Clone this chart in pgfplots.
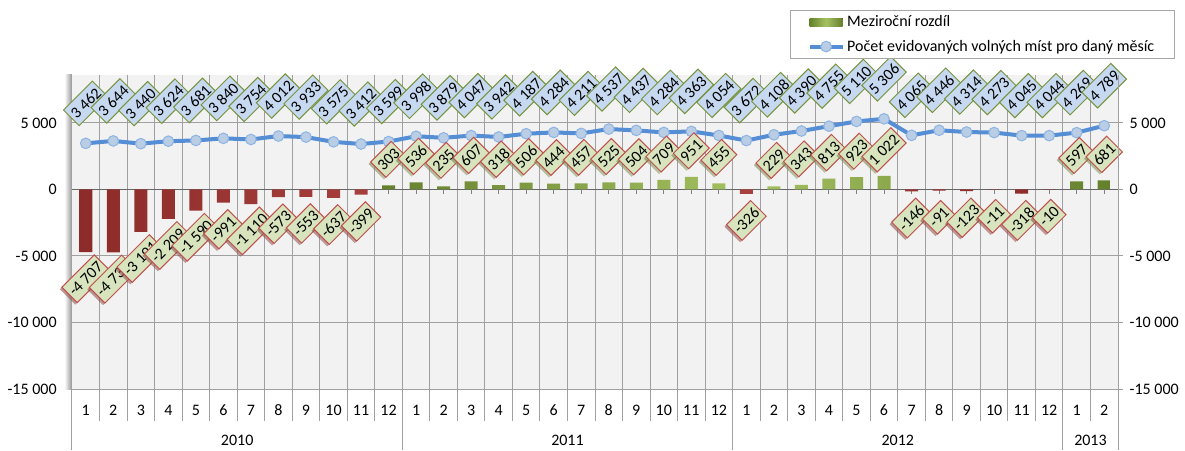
\documentclass[border=0pt]{standalone}
\usepackage{pgfplots}
\pgfplotsset{compat=1.18}
\usepackage{pgfplotstable}
\usepackage{fontspec}
\setmainfont{Carlito}
\usetikzlibrary{shadows}
\definecolor{gridc}{HTML}{A0A0A0}
\definecolor{bgc}{HTML}{F2F2F2}
\definecolor{linec}{HTML}{558ED5}
\definecolor{markf}{HTML}{B9CDE5}
\definecolor{markd}{HTML}{8EB4E3}
\definecolor{lblblue}{HTML}{C6D9F1}
\definecolor{lblgreenb}{HTML}{77933C}
\definecolor{lblgreen}{HTML}{D7E4BD}
\definecolor{lblred}{HTML}{C0504D}
\definecolor{reddark}{HTML}{8C2B29}
\definecolor{redmid}{HTML}{B84D4A}
\definecolor{greendark}{HTML}{65802C}
\definecolor{greenmid}{HTML}{A5C262}

\pgfplotstableread{
x line diff
0 3462 -4707
1 3644 -4736
2 3440 -3191
3 3624 -2209
4 3681 -1590
5 3840 -991
6 3754 -1110
7 4012 -573
8 3933 -553
9 3575 -637
10 3412 -399
11 3599 303
12 3998 536
13 3879 235
14 4047 607
15 3942 318
16 4187 506
17 4284 444
18 4211 457
19 4537 525
20 4437 504
21 4284 709
22 4363 951
23 4054 455
24 3672 -326
25 4108 229
26 4390 343
27 4755 813
28 5110 923
29 5306 1022
30 4065 -146
31 4446 -91
32 4314 -123
33 4273 -11
34 4045 -318
35 4044 -10
36 4269 597
37 4789 681
}\data

\newcommand{\fs}{\fontsize{12}{14.4}\selectfont}

\begin{document}
\begin{tikzpicture}[x=0.75pt,y=0.75pt,font=\fs]
\useasboundingbox (-72,-61) rectangle (1113,389);
\begin{axis}[
  at={(0,0)}, anchor=south west, scale only axis,
  width=784.5pt, height=235.5pt,
  xmin=-0.5, xmax=37.5, ymin=-15000, ymax=8600,
  clip=false,
  axis background/.style={fill=bgc},
  axis x line*=bottom, axis y line*=left,
  axis line style={gridc, line width=0.75pt},
  xtick={0,...,37},
  xticklabels={1,2,3,4,5,6,7,8,9,10,11,12,1,2,3,4,5,6,7,8,9,10,11,12,1,2,3,4,5,6,7,8,9,10,11,12,1,2},
  minor xtick={-0.5,0.5,...,37.5},
  xminorgrids, minor grid style={gridc, line width=0.75pt},
  ytick={-15000,-10000,-5000,0,5000},
  ymajorgrids, major grid style={gridc, line width=0.75pt},
  major tick length=0pt, minor tick length=0pt,
  scaled y ticks=false,
  /pgf/number format/assume math mode=true,
  /pgf/number format/1000 sep={\ },
  tick label style={font=\fs, text=black},
  xticklabel style={anchor=base, yshift=-19.5pt},
  yticklabel style={anchor=east, xshift=-8pt},
  legend style={at={(0.6864,1.2070)}, anchor=north west, draw=gray!70, fill=white,
    font=\fs, inner xsep=13pt, inner ysep=2pt, row sep=4.5pt, legend cell align=left},
  reverse legend,
]
% left wall shading
\fill[left color=bgc, right color=gray!85] ([xshift=-5pt]axis cs:-0.5,-15000) rectangle (axis cs:-0.5,8600);
% zero line
\draw[gray!80!black, line width=0.75pt] (axis cs:-0.5,0) -- (axis cs:37.5,0);
\pgfplotsinvokeforeach{0,...,37}{\draw[gray, line width=0.75pt] (axis cs:#1,0) -- ++(0pt,-3.5pt);}
% month separators
\pgfplotsinvokeforeach{-0.5,0.5,...,37.5}{\draw[gridc, line width=0.75pt] (axis cs:#1,-15000) -- ++(0pt,-24pt);}
% year separators
\pgfplotsinvokeforeach{-0.5,11.5,23.5,35.5,37.5}{\draw[gridc, line width=0.75pt] (axis cs:#1,-15000) -- ++(0pt,-45.75pt);}
\node[font=\fs, anchor=base] at ([yshift=-42pt]axis cs:5.5,-15000) {2010};
\node[font=\fs, anchor=base] at ([yshift=-42pt]axis cs:17.5,-15000) {2011};
\node[font=\fs, anchor=base] at ([yshift=-42pt]axis cs:29.5,-15000) {2012};
\node[font=\fs, anchor=base] at ([yshift=-42pt]axis cs:36.5,-15000) {2013};

\addplot[linec, line width=3pt, mark=*, mark size=4pt,
  mark options={fill=markf, draw=markd, line width=0.75pt},
  legend image code/.code={\draw[mark repeat=2,mark phase=2] plot coordinates {(0pt,0pt) (12.4pt,0pt) (24.75pt,0pt)};},
  nodes near coords,
  every node near coord/.append style={yshift=30pt, rotate=45, anchor=center, font=\fs, text=black,
    fill=lblblue, draw=lblgreenb, line width=0.75pt, inner xsep=1.8pt, inner ysep=4.2pt}]
  table[x=x, y=line]{\data};
\addlegendentry{Počet evidovaných volných míst pro daný měsíc}

\addplot[ybar, bar width=9.75pt, bar shift=0pt, draw=none,
  left color=greendark, right color=greendark, middle color=greenmid,
  restrict y to domain=0:20000,
  legend image code/.code={\fill[left color=greendark, right color=greendark, middle color=greenmid] (0pt,-3pt) rectangle (24.75pt,3pt);},
  nodes near coords,
  every node near coord/.append style={yshift=19.5pt, rotate=45, anchor=center, font=\fs, text=black,
    fill=lblgreen, draw=lblred, line width=0.75pt, inner xsep=1.8pt, inner ysep=4.2pt,
    drop shadow={shadow xshift=-1.5pt, shadow yshift=-1.5pt, opacity=0.35}}]
  table[x=x, y=diff]{\data};
\addlegendentry{Meziroční rozdíl}

\addplot[ybar, bar width=9.75pt, bar shift=0pt, draw=none, forget plot,
  left color=reddark, right color=reddark, middle color=redmid,
  restrict y to domain=-20000:0,
  nodes near coords,
  every node near coord/.append style={yshift=-20pt, rotate=45, anchor=center, font=\fs, text=black,
    fill=lblgreen, draw=lblred, line width=0.75pt, inner xsep=1.8pt, inner ysep=4.2pt,
    drop shadow={shadow xshift=-1.5pt, shadow yshift=-1.5pt, opacity=0.35}}]
  table[x=x, y=diff]{\data};
\end{axis}

\begin{axis}[
  at={(0,0)}, anchor=south west, scale only axis,
  width=784.5pt, height=235.5pt,
  xmin=-0.5, xmax=37.5, ymin=-15000, ymax=8600,
  axis x line=none, axis y line*=right,
  axis line style={gridc, line width=0.75pt},
  ytick={-15000,-10000,-5000,0,5000}, ytick pos=right,
  tick align=outside, major tick length=3.75pt,
  ytick style={gridc, line width=0.75pt},
  scaled y ticks=false,
  /pgf/number format/assume math mode=true,
  /pgf/number format/1000 sep={\ },
  tick label style={font=\fs, text=black},
  yticklabel style={anchor=west, xshift=1.5pt},
]
\addplot[draw=none] coordinates {(0,0)};
\end{axis}
\end{tikzpicture}
\end{document}
